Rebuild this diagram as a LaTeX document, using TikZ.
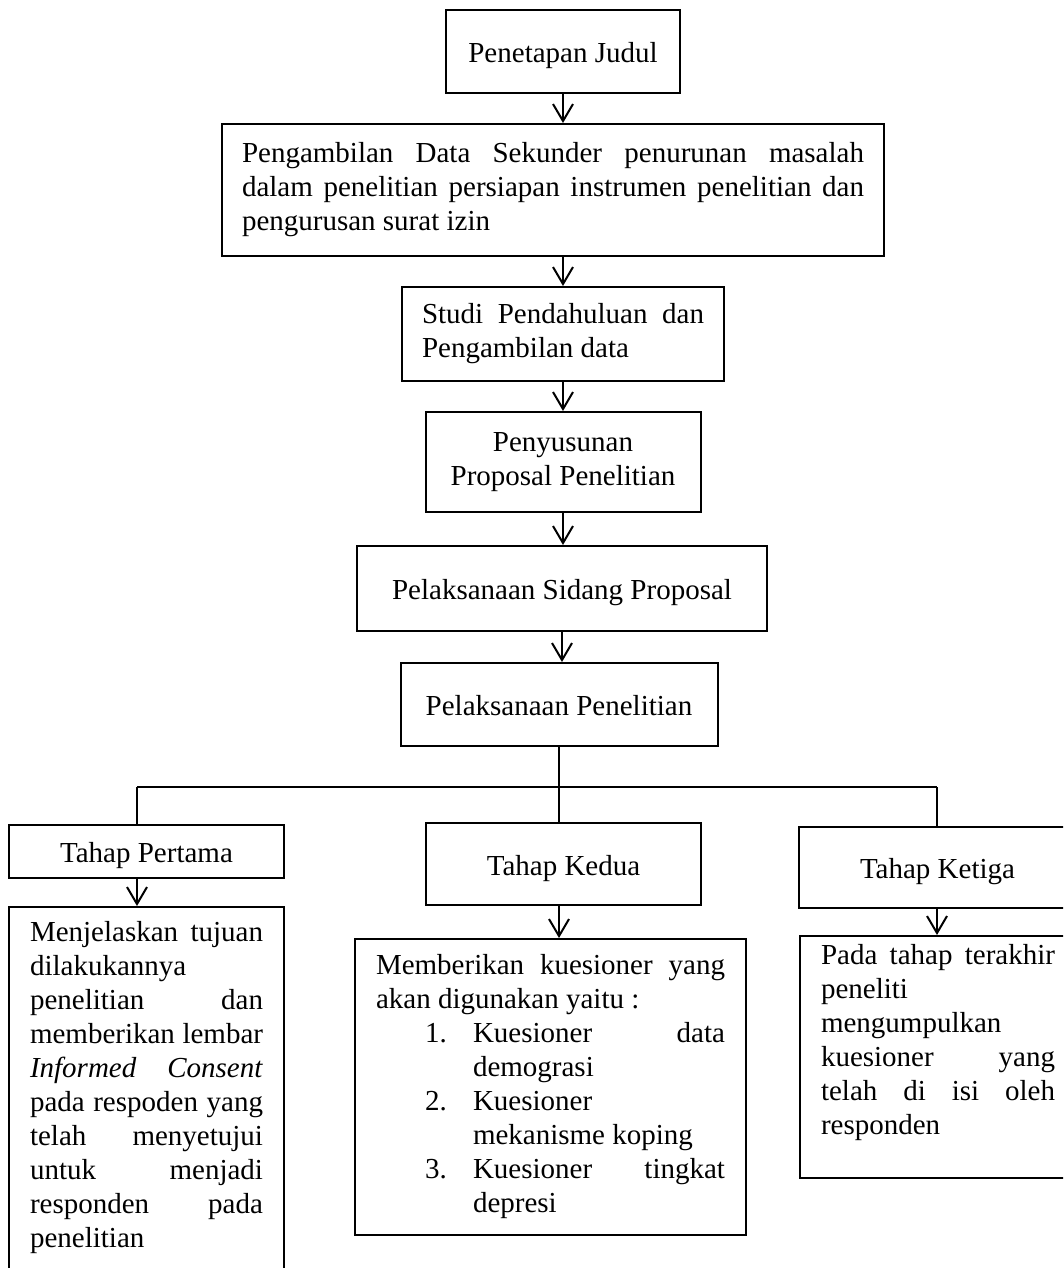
\documentclass[tikz,border=0pt]{standalone}
\usepackage{fontspec}
\setmainfont{Liberation Serif}
\usepackage{tikz}
\usetikzlibrary{arrows.meta, positioning}
\newcommand{\diagramfont}{\fontsize{29pt}{34pt}\selectfont}
\newcommand{\spread}[2]{\makebox[#1][s]{#2}}
\newcommand{\kaki}[1]{\rule[-#1]{0pt}{#1}}
\tikzset{%
  block/.style={%
    rectangle,%
    draw=black,%
    line width=2pt,%
    inner sep=0pt,%
    font={\diagramfont},%
    align=left%
  },
  single_block/.style={%
    block,%
    align=center,%
    text height=28pt,%
    text depth=6pt%
  },
  signal/.style={%
    color=black,%
    line width=2pt,%
    line join=miter%
  },
  arrow/.style={-{Straight Barb[length=17pt, width=20pt]}},
}

\begin{document}
\begin{tikzpicture}[x=1pt, y=-1pt]
  \path[use as bounding box, clip] (0,0) rectangle (1063,1268);

  \node[single_block, minimum width=234pt, minimum height=83pt] (judul) at (563,51.5) {Penetapan Judul};
  \node[block, minimum width=662pt, minimum height=132pt] (sekunder) at (553,190)
    {\spread{622pt}{Pengambilan Data Sekunder penurunan masalah}\\
     \spread{622pt}{dalam penelitian persiapan instrumen penelitian dan}\\
     pengurusan surat izin};
  \node[block, minimum width=322pt, minimum height=94pt] (studi) at (563,334)
    {\spread{282pt}{Studi Pendahuluan dan}\\
     Pengambilan data};
  \node[block, align=center, minimum width=275pt, minimum height=100pt] (usulan) at (563,462)
    {Penyusunan\\Proposal Penelitian};
  \node[single_block, minimum width=410pt, minimum height=85pt] (sidang) at (562,588.5) {Pelaksanaan Sidang Proposal};
  \node[single_block, minimum width=317pt, minimum height=83pt] (pelaksanaan) at (559,704.5) {Pelaksanaan Penelitian};

  \node[single_block, minimum width=275pt, minimum height=53pt] (tahapsatu) at (146.5,851.5) {Tahap Pertama};
  \node[single_block, minimum width=275pt, minimum height=82pt] (tahapdua) at (563.5,864) {Tahap Kedua};
  \node[single_block, minimum width=277pt, minimum height=81pt] (tahaptiga) at (937.5,867.5) {Tahap Ketiga};

  \node[block, anchor=north, minimum width=275pt, inner ysep=14pt] (jelaskan) at (146.5,906)
    {\spread{233pt}{Menjelaskan tujuan}\\
     dilakukannya\\
     \spread{233pt}{penelitian dan}\\
     \spread{233pt}{memberikan lembar}\\
     \spread{233pt}{\textit{Informed Consent}}\\
     \spread{233pt}{pada respoden yang}\\
     \spread{233pt}{telah menyetujui}\\
     \spread{233pt}{untuk menjadi}\\
     \spread{233pt}{responden pada}\\
     penelitian\kaki{80pt}};
  \node[block, minimum width=391pt, minimum height=296pt] (kuesioner) at (550.5,1087)
    {\spread{349pt}{Memberikan kuesioner yang}\\
     akan digunakan yaitu :\\
     \hspace*{49pt}\makebox[48pt][l]{1.}\spread{252pt}{Kuesioner data}\\
     \hspace*{97pt}demograsi\\
     \hspace*{49pt}\makebox[48pt][l]{2.}Kuesioner\\
     \hspace*{97pt}mekanisme koping\\
     \hspace*{49pt}\makebox[48pt][l]{3.}\spread{252pt}{Kuesioner tingkat}\\
     \hspace*{97pt}depresi};
  \node[block, anchor=north, minimum width=276pt, inner ysep=8pt] (akhir) at (938,935)
    {\spread{234pt}{Pada tahap terakhir}\\
     peneliti\\
     mengumpulkan\\
     \spread{234pt}{kuesioner yang}\\
     \spread{234pt}{telah di isi oleh}\\
     responden\kaki{36pt}};

  \coordinate (kiri) at (137,787);
  \coordinate (kanan) at (937,787);

  \draw[signal, arrow] (judul.south) -- (judul.south |- sekunder.north);
  \draw[signal, arrow] (studi.north |- sekunder.south) -- (studi.north);
  \draw[signal, arrow] (studi.south) -- (studi.south |- usulan.north);
  \draw[signal, arrow] (usulan.south) -- (usulan.south |- sidang.north);
  \draw[signal, arrow] (sidang.south) -- (sidang.south |- pelaksanaan.north);
  \draw[signal] (pelaksanaan.south) -- (pelaksanaan.south |- tahapdua.north);
  \draw[signal] (kiri) -- (kanan);
  \draw[signal] (kiri) -- (kiri |- tahapsatu.north);
  \draw[signal] (kanan) -- (kanan |- tahaptiga.north);
  \draw[signal, arrow] (kiri |- tahapsatu.south) -- (kiri |- jelaskan.north);
  \draw[signal, arrow] (pelaksanaan.south |- tahapdua.south) -- (pelaksanaan.south |- kuesioner.north);
  \draw[signal, arrow] (kanan |- tahaptiga.south) -- (kanan |- akhir.north);

\end{tikzpicture}
\end{document}
